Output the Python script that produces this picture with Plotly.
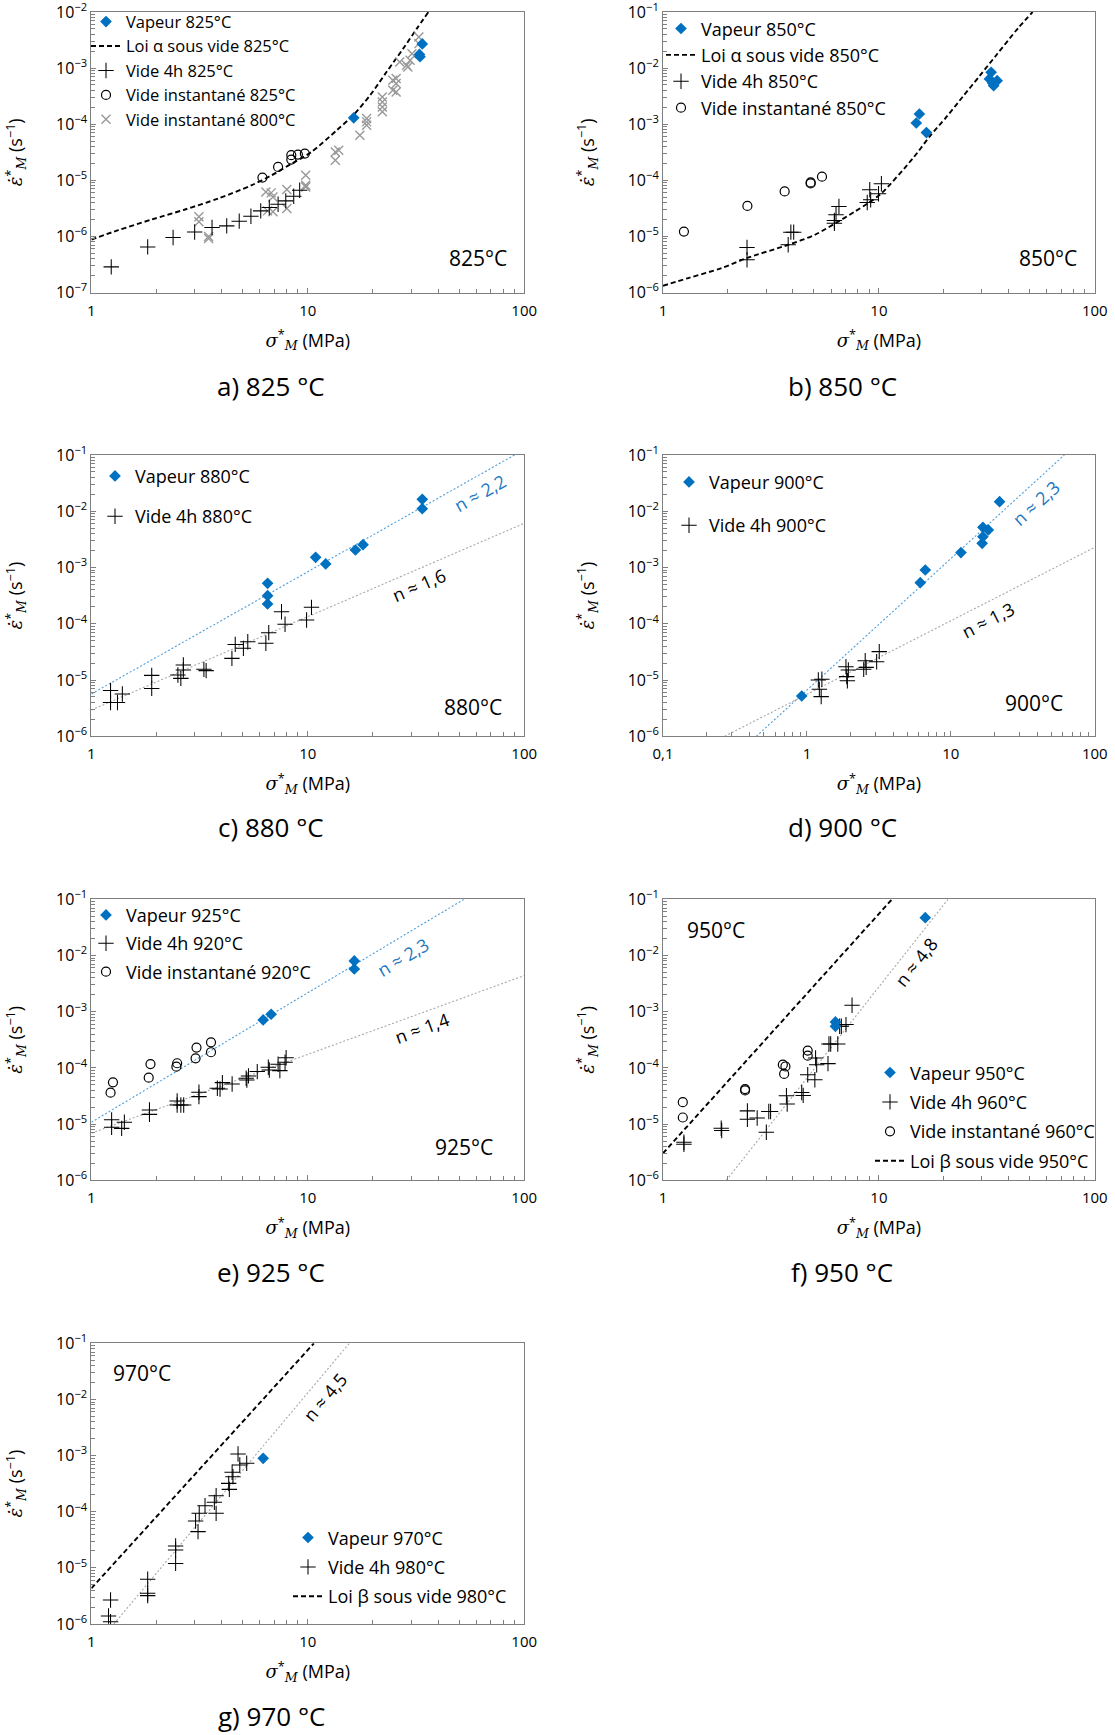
import math
import plotly.graph_objects as go

W, H = 1115, 1735
FONT = "Open Sans"
BLUE = "#0070C0"
BLUE_FIT = "#4C9EDB"
GREY_FIT = "#A8A8A8"
NBLUE = "#1F78C1"

# ---------------- data ----------------
# a) 825 °C
a_vap_x = [16.3, 33.8, 32.8, 33.0]
a_vap_y = [1.3e-4, 2.7e-3, 1.75e-3, 1.6e-3]
a_loi_x = [1.0, 1.33, 1.90, 2.71, 3.86, 5.51, 6.81, 8.43, 10.4, 13.6, 16.2, 19.4, 23.1, 27.6, 31.9, 36.1]
a_loi_y = [8.8e-7, 1.29e-6, 2.0e-6, 3.02e-6, 4.74e-6, 8.2e-6, 1.23e-5, 1.99e-5, 3.2e-5, 7.8e-5,
           1.44e-4, 3.28e-4, 8.5e-4, 2.23e-3, 5.06e-3, 1.0e-2]
a_v4_x = [1.235, 1.82, 2.385, 3.0, 3.61, 4.22, 4.82, 5.46, 6.06, 6.64, 7.29, 7.91, 8.61, 9.17]
a_v4_y = [2.86e-7, 6.5e-7, 9.55e-7, 1.2e-6, 1.44e-6, 1.54e-6, 1.87e-6, 2.29e-6, 2.85e-6, 3.27e-6,
          3.75e-6, 4.3e-6, 5.2e-6, 6.65e-6]
a_vi_x = [6.17, 7.29, 8.39, 8.39, 9.0, 9.69]
a_vi_y = [1.12e-5, 1.73e-5, 2.8e-5, 2.34e-5, 2.87e-5, 2.99e-5]
a_vi800_x = [3.14, 3.14, 3.48, 3.48, 6.40, 6.52, 6.77, 6.90, 6.90, 8.0, 8.0, 9.78, 9.78, 9.78, 13.4, 13.4,
             13.9, 17.4, 18.7, 18.7, 18.7, 22.1, 22.1, 22.1, 22.1, 24.7, 24.7, 25.6, 25.6, 25.6, 26.6,
             28.6, 29.7, 30.3, 29.0, 32.6, 32.6]
a_vi800_y = [2.23e-6, 1.82e-6, 1.0e-6, 9.2e-7, 6.2e-6, 2.85e-6, 5.97e-6, 5.06e-6, 2.74e-6, 6.84e-6,
             3.13e-6, 1.23e-5, 8.2e-6, 7.6e-6, 3.2e-5, 2.28e-5, 3.43e-5, 6.35e-5, 1.26e-4, 1.10e-4,
             9.6e-5, 3.06e-4, 2.49e-4, 2.03e-4, 1.66e-4, 6.07e-4, 4.02e-4, 6.5e-4, 5.3e-4, 3.76e-4,
             1.29e-3, 1.12e-3, 1.38e-3, 1.81e-3, 1.05e-3, 3.59e-3, 2.73e-3]

# b) 850 °C
b_vap_x = [14.9, 15.4, 16.6, 33.1, 32.5, 34.0, 35.3, 33.6]
b_vap_y = [1.05e-3, 1.52e-3, 7.1e-4, 8.4e-3, 6.4e-3, 4.85e-3, 5.96e-3, 5.4e-3]
b_loi_x = [1.0, 1.31, 1.87, 2.44, 3.81, 5.06, 6.38, 7.75, 8.93, 10.3, 14.4, 17.2, 20.6, 24.6, 29.4,
           35.1, 44.2, 51.5]
b_loi_y = [1.32e-6, 1.81e-6, 2.72e-6, 4.1e-6, 7.1e-6, 1.07e-5, 1.77e-5, 2.78e-5, 3.93e-5, 5.92e-5,
           2.49e-4, 6.05e-4, 1.36e-3, 3.18e-3, 7.4e-3, 1.73e-2, 5.2e-2, 1e-1]
b_v4_x = [2.45, 2.45, 3.80, 3.91, 4.03, 6.22, 6.33, 6.53, 6.22, 8.83, 9.07, 9.16, 9.96, 10.27]
b_v4_y = [6.35e-6, 3.83e-6, 7.1e-6, 1.19e-5, 1.19e-5, 1.92e-5, 2.43e-5, 3.42e-5, 1.72e-5, 4.03e-5,
          6.78e-5, 4.5e-5, 5.75e-5, 8.7e-5]
b_vi_x = [1.25, 2.46, 3.66, 4.83, 4.83, 5.45]
b_vi_y = [1.22e-5, 3.5e-5, 6.33e-5, 9.16e-5, 8.8e-5, 1.16e-4]

# c) 880 °C
c_vap_x = [6.52, 6.52, 6.52, 10.87, 12.1, 16.6, 18.0, 33.8, 33.8]
c_vap_y = [5.24e-4, 3.16e-4, 2.25e-4, 1.52e-3, 1.16e-3, 2.05e-3, 2.55e-3, 1.63e-2, 1.11e-2]
c_v4_x = [1.226, 1.226, 1.32, 1.39, 1.90, 1.90, 2.51, 2.59, 2.66, 2.66, 3.31, 3.39, 4.46, 4.62, 5.04,
          5.28, 6.40, 6.6, 7.56, 7.85, 9.87, 10.4]
c_v4_y = [6.5e-6, 4.0e-6, 4.0e-6, 5.65e-6, 1.21e-5, 7.1e-6, 1.23e-5, 1.07e-5, 1.85e-5, 1.51e-5, 1.55e-5,
          1.47e-5, 2.43e-5, 4.3e-5, 3.66e-5, 4.8e-5, 4.5e-5, 6.95e-5, 1.64e-4, 9.8e-5, 1.17e-4, 1.96e-4]
c_fitv_x = [1.0, 90.2]
c_fitv_y = [5.65e-6, 0.1]
c_fit4_x = [1.0, 100.0]
c_fit4_y = [2.94e-6, 6.1e-3]

# d) 900 °C
d_vap_x = [0.92, 6.13, 6.64, 11.75, 16.5, 16.7, 16.7, 18.2, 21.8]
d_vap_y = [5.2e-6, 5.38e-4, 9.04e-4, 1.84e-3, 2.69e-3, 3.54e-3, 5.18e-3, 4.65e-3, 1.48e-2]
d_v4_x = [1.20, 1.22, 1.256, 1.27, 1.867, 1.89, 1.94, 1.91, 2.48, 2.54, 2.58, 3.05, 3.18]
d_v4_y = [1.0e-5, 6.85e-6, 5.07e-6, 1.03e-5, 1.73e-5, 1.15e-5, 1.51e-5, 9.7e-6, 1.55e-5, 2.21e-5,
          1.68e-5, 2.12e-5, 3.2e-5]
d_fitv_x = [0.445, 61.4]
d_fitv_y = [1e-6, 0.1]
d_fit4_x = [0.268, 100.0]
d_fit4_y = [1e-6, 2.29e-3]

# e) 925 °C
e_vap_x = [6.22, 6.77, 16.4, 16.4]
e_vap_y = [7.13e-4, 9.0e-4, 8.0e-3, 5.75e-3]
e_vi_x = [1.226, 1.258, 1.84, 1.875, 2.47, 2.49, 3.03, 3.06, 3.57, 3.57]
e_vi_y = [3.63e-5, 5.54e-5, 6.7e-5, 1.17e-4, 1.05e-4, 1.21e-4, 1.48e-4, 2.3e-4, 1.9e-4, 2.85e-4]
e_v4_x = [1.24, 1.24, 1.38, 1.42, 1.855, 1.855, 2.49, 2.49, 2.59, 2.67, 3.14, 3.14, 3.82, 3.93, 4.03,
          4.47, 5.19, 5.23, 5.32, 5.84, 6.57, 6.64, 7.29, 7.43, 7.85, 7.94]
e_v4_y = [1.19e-5, 8.8e-6, 8.4e-6, 1.08e-5, 1.78e-5, 1.49e-5, 2.58e-5, 2.19e-5, 2.19e-5, 2.19e-5,
          3.68e-5, 3.08e-5, 4.34e-5, 4.22e-5, 5.47e-5, 5.18e-5, 6.53e-5, 6.1e-5, 7.2e-5, 8.6e-5,
          1.03e-4, 9.2e-5, 1.16e-4, 8.95e-5, 1.26e-4, 1.52e-4]
e_fitv_x = [1.0, 52.7]
e_fitv_y = [1.08e-5, 0.1]
e_fit4_x = [1.0, 100.0]
e_fit4_y = [6.9e-6, 4.39e-3]

# f) 950 °C
f_vap_x = [16.4, 6.29, 6.29]
f_vap_y = [4.71e-2, 6.58e-4, 5.5e-4]
f_v4_x = [1.25, 1.25, 1.86, 1.87, 2.46, 2.46, 2.73, 3.01, 3.09, 3.15, 3.73, 3.76, 4.39, 4.46, 4.68,
          5.05, 5.09, 5.15, 5.81, 5.87, 5.98, 6.45, 6.58, 6.70, 7.04, 7.51]
f_v4_y = [4.76e-6, 4.39e-6, 8.46e-6, 7.69e-6, 1.72e-5, 1.22e-5, 1.28e-5, 7.18e-6, 1.68e-5, 1.68e-5,
          3.19e-5, 2.27e-5, 3.66e-5, 3.24e-5, 7.56e-5, 6.17e-5, 1.5e-4, 1.14e-4, 1.19e-4, 2.67e-4,
          2.67e-4, 2.67e-4, 5.5e-4, 5.5e-4, 5.9e-4, 1.3e-3]
f_vi_x = [1.235, 1.235, 2.40, 2.40, 3.59, 3.64, 3.69, 4.68, 4.68]
f_vi_y = [2.46e-5, 1.31e-5, 4.2e-5, 3.97e-5, 1.14e-4, 7.8e-5, 1.06e-4, 2.03e-4, 1.65e-4]
f_loi_x = [1.0, 11.5]
f_loi_y = [3.03e-6, 0.1]
f_fit_x = [1.965, 20.9]
f_fit_y = [1e-6, 0.1]

# g) 970 °C
g_vap_x = [6.22]
g_vap_y = [8.94e-4]
g_v4_x = [1.226, 1.20, 1.226, 1.82, 1.82, 1.82, 2.45, 2.45, 2.45, 3.03, 3.11, 3.15, 3.35, 3.70, 3.77,
          3.77, 4.31, 4.34, 4.47, 4.51, 4.76, 4.85, 5.22]
g_v4_y = [2.68e-6, 1.39e-6, 1.1e-6, 6.25e-6, 3.52e-6, 3.2e-6, 2.45e-5, 2.08e-5, 1.2e-5, 6.84e-5,
          4.42e-5, 9.36e-5, 1.28e-4, 1.47e-4, 1.93e-4, 9.36e-5, 3.2e-4, 2.5e-4, 5.04e-4, 4.21e-4,
          1.07e-3, 6.8e-4, 7.28e-4]
g_loi_x = [1.0, 10.67]
g_loi_y = [4.32e-6, 0.1]
g_fit_x = [1.27, 15.56]
g_fit_y = [1e-6, 0.1]

# tick labels
x_ticks = [0.1, 1, 10, 100]
x_tick_text = ["0,1", "1", "10", "100"]
y_exponents = [-7, -6, -5, -4, -3, -2, -1]

# ---------------- layout helpers ----------------
def fx(px):
    return px / W

def fy(py):
    return 1 - py / H

COLX = {"L": (91.4, 524.2), "R": (663.0, 1094.8)}
ROWY = [(12.0, 292.5), (455.0, 736.3), (899.3, 1180.3), (1343.3, 1624.0)]

PLUS = dict(symbol="cross-thin", size=11, color="black", line=dict(color="black", width=1.05))
CIRC = dict(symbol="circle-open", size=9, color="black", line=dict(color="black", width=1.2))
VAP = dict(symbol="diamond", size=9, color=BLUE, line=dict(width=0))
XG = dict(symbol="x-thin", size=9, color="#999999", line=dict(color="#999999", width=1.4))

fig = go.Figure()

panels = [
    dict(col="L", row=0, xr=(0, 2), yr=(-7, -2)),
    dict(col="R", row=0, xr=(0, 2), yr=(-6, -1)),
    dict(col="L", row=1, xr=(0, 2), yr=(-6, -1)),
    dict(col="R", row=1, xr=(-1, 2), yr=(-6, -1)),
    dict(col="L", row=2, xr=(0, 2), yr=(-6, -1)),
    dict(col="R", row=2, xr=(0, 2), yr=(-6, -1)),
    dict(col="L", row=3, xr=(0, 2), yr=(-6, -1)),
]

def sfx(i):
    return "" if i == 0 else str(i + 1)

def add(i, x, y, name=None, marker=None, line=None, rank=1, mode="markers"):
    s = sfx(i)
    kw = dict(x=x, y=y, mode=mode, xaxis="x" + s, yaxis="y" + s, legend="legend" + s,
              hoverinfo="x+y")
    if marker is not None:
        kw["marker"] = marker
    if line is not None:
        kw["line"] = line
    if name is None:
        kw["showlegend"] = False
    else:
        kw["name"] = name
        kw["legendgroup"] = "g%d_%d" % (i, rank)
        kw["legendrank"] = rank
    fig.add_trace(go.Scatter(**kw))

DASH = dict(color="black", width=1.9, dash="5px,3px")
def fit_line(color):
    return dict(color=color, width=1.1, dash="2px,2px")

# a
add(0, a_loi_x, a_loi_y, "Loi α sous vide 825°C", line=dict(DASH, shape="spline", smoothing=0.8), rank=2, mode="lines")
add(0, a_vi800_x, a_vi800_y, "Vide instantané 800°C", XG, rank=5)
add(0, a_v4_x, a_v4_y, "Vide 4h 825°C", PLUS, rank=3)
add(0, a_vi_x, a_vi_y, "Vide instantané 825°C", CIRC, rank=4)
add(0, a_vap_x, a_vap_y, "Vapeur 825°C", VAP, rank=1)
# b
add(1, b_loi_x, b_loi_y, "Loi α sous vide 850°C", line=dict(DASH, shape="spline", smoothing=0.8), rank=2, mode="lines")
add(1, b_v4_x, b_v4_y, "Vide 4h 850°C", PLUS, rank=3)
add(1, b_vi_x, b_vi_y, "Vide instantané 850°C", CIRC, rank=4)
add(1, b_vap_x, b_vap_y, "Vapeur 850°C", VAP, rank=1)
# c
add(2, c_fitv_x, c_fitv_y, line=fit_line(BLUE_FIT), mode="lines")
add(2, c_fit4_x, c_fit4_y, line=fit_line(GREY_FIT), mode="lines")
add(2, c_v4_x, c_v4_y, "Vide 4h 880°C", PLUS, rank=2)
add(2, c_vap_x, c_vap_y, "Vapeur 880°C", VAP, rank=1)
# d
add(3, d_fitv_x, d_fitv_y, line=fit_line(BLUE_FIT), mode="lines")
add(3, d_fit4_x, d_fit4_y, line=fit_line(GREY_FIT), mode="lines")
add(3, d_v4_x, d_v4_y, "Vide 4h 900°C", PLUS, rank=2)
add(3, d_vap_x, d_vap_y, "Vapeur 900°C", VAP, rank=1)
# e
add(4, e_fitv_x, e_fitv_y, line=fit_line(BLUE_FIT), mode="lines")
add(4, e_fit4_x, e_fit4_y, line=fit_line(GREY_FIT), mode="lines")
add(4, e_v4_x, e_v4_y, "Vide 4h 920°C", PLUS, rank=2)
add(4, e_vi_x, e_vi_y, "Vide instantané 920°C", CIRC, rank=3)
add(4, e_vap_x, e_vap_y, "Vapeur 925°C", VAP, rank=1)
# f
add(5, f_loi_x, f_loi_y, "Loi β sous vide 950°C", line=DASH, rank=4, mode="lines")
add(5, f_fit_x, f_fit_y, line=fit_line(GREY_FIT), mode="lines")
add(5, f_v4_x, f_v4_y, "Vide 4h 960°C", PLUS, rank=2)
add(5, f_vi_x, f_vi_y, "Vide instantané 960°C", CIRC, rank=3)
add(5, f_vap_x, f_vap_y, "Vapeur 950°C", VAP, rank=1)
# g
add(6, g_loi_x, g_loi_y, "Loi β sous vide 980°C", line=DASH, rank=3, mode="lines")
add(6, g_fit_x, g_fit_y, line=fit_line(GREY_FIT), mode="lines")
add(6, g_v4_x, g_v4_y, "Vide 4h 980°C", PLUS, rank=2)
add(6, g_vap_x, g_vap_y, "Vapeur 970°C", VAP, rank=1)

# ---------------- axes ----------------
x_title = ("<span style='font-family:DejaVu Serif'><i>σ</i></span><sup>*</sup>"
           "<sub><span style='font-family:DejaVu Serif'><i>M</i></span></sub> (MPa)")
y_title = ("<span style='font-family:DejaVu Serif'><i>ε̇</i></span><sup>*</sup>"
           "<sub><span style='font-family:DejaVu Serif'><i>M</i></span></sub> (s<sup>−1</sup>)")

layout = dict(width=W, height=H, margin=dict(l=0, r=0, t=0, b=0, autoexpand=False),
              paper_bgcolor="white", plot_bgcolor="white",
              font=dict(family=FONT, size=14, color="black"),
              annotations=[])

for i, p in enumerate(panels):
    s = sfx(i)
    x0, x1 = COLX[p["col"]]
    y0, y1 = ROWY[p["row"]]
    xlo, xhi = p["xr"]
    ylo, yhi = p["yr"]
    xtv = [v for v in x_ticks if xlo - 1e-9 <= math.log10(v) <= xhi + 1e-9]
    xtt = [x_tick_text[x_ticks.index(v)] for v in xtv]
    xminor = [k * 10 ** e for e in range(xlo, xhi) for k in range(2, 10)]
    ytv = [10.0 ** e for e in y_exponents if ylo <= e <= yhi]
    ytt = ["10<sup>−%d</sup>" % (-e) for e in y_exponents if ylo <= e <= yhi]
    yminor = [k * 10.0 ** e for e in range(ylo, yhi) for k in range(2, 10)]
    common = dict(showline=True, linecolor="#7f7f7f", linewidth=1, mirror=True, showgrid=False,
                  zeroline=False, ticks="inside", ticklen=5, tickcolor="#7f7f7f", automargin=False,
                  ticklabeloverflow="allow")
    layout["xaxis" + s] = dict(common, type="log", range=[xlo, xhi], domain=[fx(x0), fx(x1)],
                               anchor="y" + s, tickvals=xtv, ticktext=xtt, ticklabelstandoff=4,
                               tickfont=dict(family=FONT, size=15, color="black"),
                               minor=dict(tickvals=xminor, ticks="inside", ticklen=4, tickcolor="#7f7f7f"),
                               title=dict(text=x_title, font=dict(family=FONT, size=18), standoff=15))
    layout["yaxis" + s] = dict(common, type="log", range=[ylo, yhi], domain=[fy(y1), fy(y0)],
                               anchor="x" + s, tickvals=ytv, ticktext=ytt,
                               tickfont=dict(family=FONT, size=16, color="black"),
                               minor=dict(tickvals=yminor, ticks="inside", ticklen=4, tickcolor="#7f7f7f"),
                               title=dict(text=y_title, font=dict(family=FONT, size=18), standoff=28))

# ---------------- legends ----------------
# (symbol centre x, first item centre y, font size, gap) in pixels
legend_specs = [
    (106.0, 23.3, 16.5, 0),
    (681.0, 29.3, 18, 0),
    (115.0, 476.7, 18, 14),
    (689.0, 482.7, 18, 17),
    (106.0, 915.7, 18, 2),
    (890.0, 1073.3, 18, 3),
    (308.0, 1538.3, 18, 3),
]
for i, (sx, sy, fs, gap) in enumerate(legend_specs):
    layout["legend" + sfx(i)] = dict(x=fx(sx - 20), y=fy(sy - 19), xanchor="left", yanchor="top",
                                     bgcolor="rgba(0,0,0,0)", borderwidth=0,
                                     font=dict(family=FONT, size=fs, color="black"),
                                     traceorder="grouped", tracegroupgap=gap, itemwidth=30)

# ---------------- annotations ----------------
def ann(text, x, y, size, color="black", angle=0, family=FONT):
    layout["annotations"].append(dict(text=text, x=fx(x), y=fy(y), xref="paper", yref="paper",
                                      showarrow=False, xanchor="center", yanchor="middle",
                                      textangle=angle, font=dict(family=family, size=size, color=color)))

captions = ["a) 825 °C", "b) 850 °C", "c) 880 °C", "d) 900 °C", "e) 925 °C", "f) 950 °C", "g) 970 °C"]
cap_pos = [(271, 386), (842, 386), (271, 827), (842, 827), (271, 1272), (842, 1272), (271, 1716)]
for t, (x, y) in zip(captions, cap_pos):
    ann(t, x, y, 26)

temps = ["825°C", "850°C", "880°C", "900°C", "925°C", "950°C", "970°C"]
temp_pos = [(478, 258), (1048, 258), (473, 707), (1034, 703), (464, 1147), (716, 930), (142, 1373)]
for t, (x, y) in zip(temps, temp_pos):
    ann(t, x, y, 21)

def screen_angle(i, xs, ys):
    p = panels[i]
    x0, x1 = COLX[p["col"]]
    y0, y1 = ROWY[p["row"]]
    xdec = (x1 - x0) / (p["xr"][1] - p["xr"][0])
    ydec = (y1 - y0) / (p["yr"][1] - p["yr"][0])
    slope = (math.log10(ys[1]) - math.log10(ys[0])) / (math.log10(xs[1]) - math.log10(xs[0]))
    return -math.degrees(math.atan(slope * ydec / xdec))

n_labels = [
    (2, "n ≈ 2,2", 480, 493, NBLUE, c_fitv_x, c_fitv_y),
    (2, "n ≈ 1,6", 419, 585, "black", c_fit4_x, c_fit4_y),
    (3, "n ≈ 2,3", 1036, 503, NBLUE, d_fitv_x, d_fitv_y),
    (3, "n ≈ 1,3", 988, 620, "black", d_fit4_x, d_fit4_y),
    (4, "n ≈ 2,3", 403, 957, NBLUE, e_fitv_x, e_fitv_y),
    (4, "n ≈ 1,4", 422, 1028, "black", e_fit4_x, e_fit4_y),
    (5, "n ≈ 4,8", 916, 962, "black", f_fit_x, f_fit_y),
    (6, "n ≈ 4,5", 325, 1397, "black", g_fit_x, g_fit_y),
]
for i, t, x, y, c, xs, ys in n_labels:
    ann(t, x, y, 18, color=c, angle=screen_angle(i, xs, ys))

fig.update_layout(**layout)
# remove the page's default 8px body margin so the figure sits at the window's top-left corner
fig.write_html("out.html", config={"displayModeBar": False},
               post_script="document.body.style.margin='0';")
